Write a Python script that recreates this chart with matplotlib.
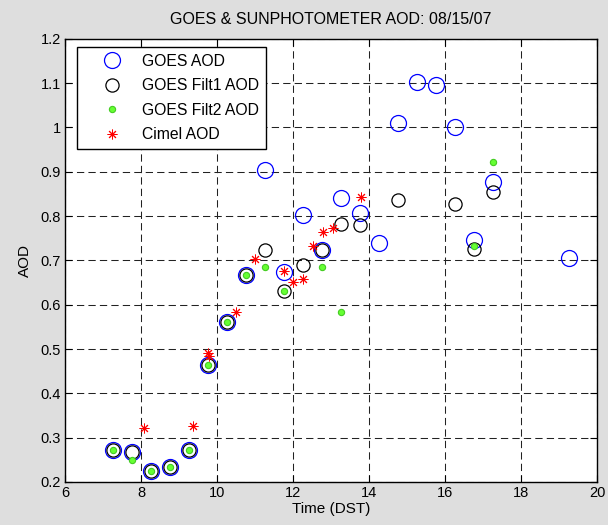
import numpy as np
import matplotlib
matplotlib.use('Agg')
import matplotlib.pyplot as plt

# ---- data ----
goes_time = [7.25, 7.75, 8.25, 8.75, 9.25, 9.76, 10.25, 10.76, 11.25, 11.75, 12.25,
             12.76, 13.26, 13.77, 14.25, 14.77, 15.26, 15.77, 16.26, 16.77, 17.26, 19.26]
goes_aod = [0.272, 0.268, 0.225, 0.234, 0.272, 0.465, 0.560, 0.668, 0.904, 0.674, 0.802,
            0.723, 0.841, 0.806, 0.739, 1.011, 1.103, 1.096, 1.001, 0.745, 0.876, 0.706]
filt1_aod = [0.272, 0.268, 0.225, 0.234, 0.272, 0.465, 0.560, 0.668, 0.724, 0.630, 0.689,
             0.723, 0.783, 0.779, np.nan, 0.836, np.nan, np.nan, 0.827, 0.726, 0.855, np.nan]
filt2_aod = [0.272, 0.250, 0.225, 0.234, 0.272, 0.465, 0.560, 0.668, 0.685, 0.630, np.nan,
             0.685, 0.583, np.nan, np.nan, np.nan, np.nan, np.nan, np.nan, 0.732, 0.922, np.nan]

cimel_time = [8.07, 9.38, 9.76, 9.78, 10.50, 10.99, 11.77, 12.00, 12.25, 12.52, 12.78, 13.04, 13.79]
cimel_aod = [0.321, 0.327, 0.490, 0.484, 0.583, 0.704, 0.675, 0.652, 0.659, 0.732, 0.763, 0.774, 0.842]

plt.rcParams['font.family'] = ['Liberation Sans', 'DejaVu Sans']

fig = plt.figure(figsize=(6.08, 5.25), dpi=100, facecolor='#dedede')
ax = fig.add_axes([0.107, 0.082, 0.875, 0.844])
ax.set_facecolor('white')

ax.plot(goes_time, goes_aod, 'o', ms=11.5, mfc='none', mec='#0000ff', mew=0.9, label='GOES AOD')
ax.plot(goes_time, filt1_aod, 'o', ms=9.5, mfc='none', mec='black', mew=0.9, label='GOES Filt1 AOD')
ax.plot(goes_time, filt2_aod, 'o', ms=4.5, mfc='#66ff33', mec='#44cc22', mew=0.8, label='GOES Filt2 AOD')
ax.plot(cimel_time, cimel_aod, ls='none', marker=(8, 2, 0), ms=7, mec='#ff0000', mew=0.7,
        label='Cimel AOD')

ax.set_xlim(6, 20)
ax.set_ylim(0.2, 1.2)
ax.set_xticks(np.arange(6, 21, 2))
ax.set_yticks(np.arange(0.2, 1.21, 0.1))
ax.set_yticklabels(['0.2', '0.3', '0.4', '0.5', '0.6', '0.7', '0.8', '0.9', '1', '1.1', '1.2'])
ax.tick_params(direction='in', length=5, width=0.8, top=True, right=True,
               labelsize=10.5, colors='black', pad=3)
for s in ax.spines.values():
    s.set_linewidth(1.0)
    s.set_color('black')
ax.grid(True, color='#222222', linestyle=(0, (7, 4)), linewidth=0.75)
ax.set_axisbelow(True)

ax.set_xlabel('Time (DST)', fontsize=11, labelpad=1)
ax.set_ylabel('AOD', fontsize=11, labelpad=6)
ax.set_title('GOES & SUNPHOTOMETER AOD: 08/15/07', fontsize=11.5, pad=11)

leg = ax.legend(loc='upper left', bbox_to_anchor=(0.0226, 0.982), borderaxespad=0,
                fontsize=11.3, fancybox=False, framealpha=1, edgecolor='black',
                borderpad=0.45, handlelength=3.6, handletextpad=0.1, labelspacing=0.6)
leg.get_frame().set_linewidth(1.0)

fig.savefig('out.png', dpi=100, facecolor=fig.get_facecolor())
